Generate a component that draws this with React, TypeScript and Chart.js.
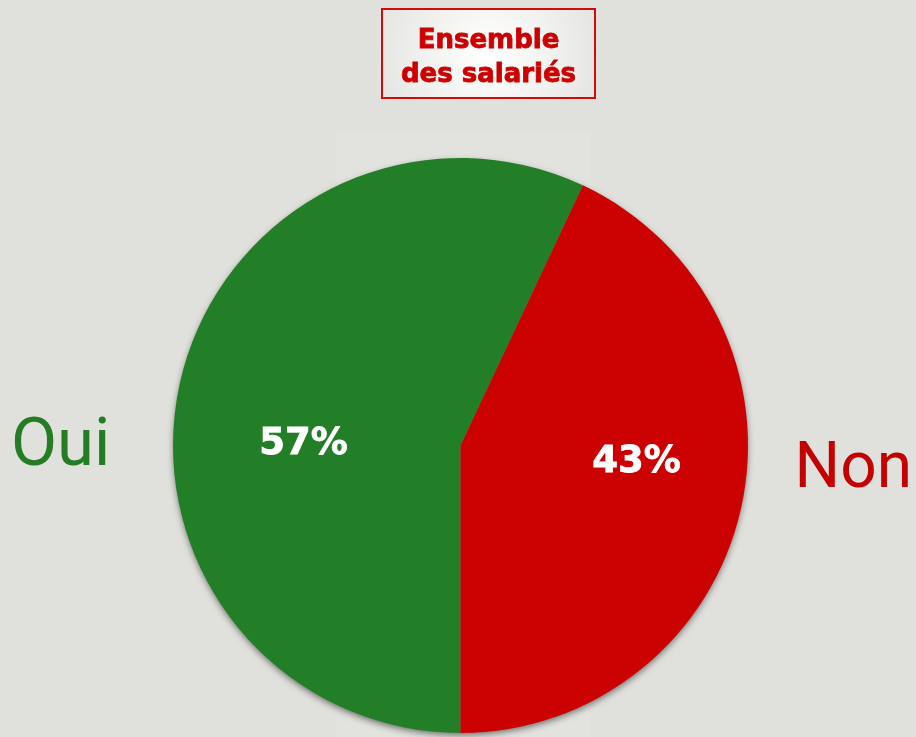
import React, { useEffect, useRef } from "react";
import { Chart, registerables } from "chart.js";

Chart.register(...registerables);

const categories = ["Oui", "Non"];
const values = [57, 43];
const sliceColors = ["#237f27", "#cc0202"];
const labelColors = ["#247d22", "#c40000"];
const titleLines = ["Ensemble", "des salariés"];

const W = 916;
const H = 737;

const decorPlugin = {
  id: "decor",
  beforeDraw(chart: any) {
    const ctx = chart.ctx;
    ctx.save();
    ctx.fillStyle = "#e0e1dc";
    ctx.fillRect(0, 0, W, H);
    ctx.fillStyle = "#e2e3de";
    ctx.fillRect(337, 132, 253, H - 132);
    ctx.restore();
  },
  beforeDatasetsDraw(chart: any) {
    const ctx = chart.ctx;
    const arc0 = chart.getDatasetMeta(0).data[0];
    ctx.save();
    ctx.shadowColor = "rgba(0,0,0,0.55)";
    ctx.shadowBlur = 7;
    ctx.shadowOffsetY = 3;
    ctx.fillStyle = "#888";
    ctx.beginPath();
    ctx.arc(arc0.x, arc0.y, arc0.outerRadius - 1, 0, Math.PI * 2);
    ctx.fill();
    ctx.restore();
  },
  afterDatasetsDraw(chart: any) {
    const ctx = chart.ctx;
    const meta = chart.getDatasetMeta(0);
    const arc0 = meta.data[0];
    const cx = arc0.x;
    const cy = arc0.y;
    const r = arc0.outerRadius;

    // percent labels
    const pos = [
      [-0.546, -0.003],
      [0.612, 0.06],
    ];
    ctx.save();
    ctx.fillStyle = "#ffffff";
    ctx.strokeStyle = "#ffffff";
    ctx.lineWidth = 0.8;
    ctx.font = "bold 37px 'DejaVu Sans'";
    ctx.textAlign = "center";
    ctx.textBaseline = "middle";
    values.forEach((v, i) => {
      const x = cx + pos[i][0] * r;
      const y = cy + pos[i][1] * r;
      ctx.fillText(v + "%", x, y);
      ctx.strokeText(v + "%", x, y);
    });

    // category labels
    ctx.font = "67px Roboto";
    ctx.textBaseline = "alphabetic";
    ctx.textAlign = "left";
    ctx.fillStyle = labelColors[0];
    ctx.fillText(categories[0], 11, 465);
    ctx.font = "64px Roboto";
    ctx.textAlign = "right";
    ctx.fillStyle = labelColors[1];
    ctx.fillText(categories[1], 912, 487);

    // title box
    const bx = 381, by = 8, bw = 215, bh = 91;
    const g = ctx.createRadialGradient(bx + bw / 2, by + bh / 2, 5, bx + bw / 2, by + bh / 2, bw / 2);
    g.addColorStop(0, "#ffffff");
    g.addColorStop(1, "#e6e6e3");
    ctx.fillStyle = g;
    ctx.fillRect(bx, by, bw, bh);
    ctx.strokeStyle = "#d20a0a";
    ctx.lineWidth = 2;
    ctx.strokeRect(bx + 1, by + 1, bw - 2, bh - 2);
    ctx.fillStyle = "#cc0000";
    ctx.strokeStyle = "#cc0000";
    ctx.lineWidth = 0.8;
    ctx.font = "bold 26px 'DejaVu Sans'";
    ctx.textAlign = "center";
    ctx.textBaseline = "alphabetic";
    ctx.fillText(titleLines[0], bx + bw / 2, 48);
    ctx.strokeText(titleLines[0], bx + bw / 2, 48);
    ctx.fillText(titleLines[1], bx + bw / 2, 82);
    ctx.strokeText(titleLines[1], bx + bw / 2, 82);
    ctx.restore();
  },
};

export default function App() {
  const ref = useRef<HTMLCanvasElement | null>(null);
  useEffect(() => {
    document.body.style.margin = "0";
    if (!ref.current) return;
    const chart = new Chart(ref.current, {
      type: "pie",
      data: {
        labels: categories,
        datasets: [
          {
            data: values,
            backgroundColor: sliceColors,
            borderWidth: 0,
          },
        ],
      },
      options: {
        animation: false,
        responsive: false,
        rotation: 180,
        layout: { padding: { left: 173, right: 168, top: 158, bottom: 4 } },
        plugins: {
          legend: { display: false },
          tooltip: { enabled: false },
          title: { display: false },
        },
      },
      plugins: [decorPlugin],
    });
    return () => chart.destroy();
  }, []);
  return (
    <div style={{ width: W, height: H }}>
      <canvas ref={ref} width={W} height={H} style={{ display: "block" }} />
    </div>
  );
}
